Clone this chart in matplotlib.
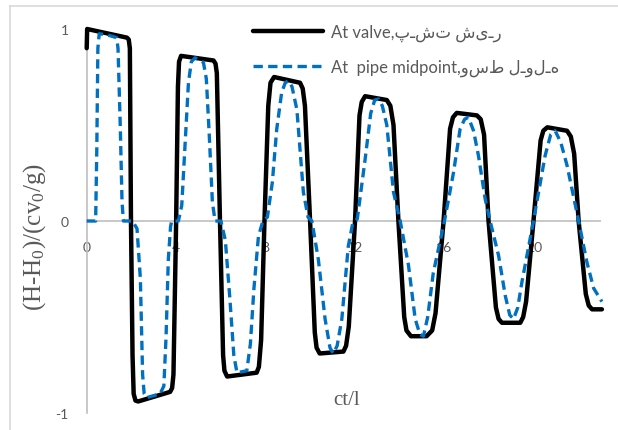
import matplotlib

matplotlib.use("Agg")
import matplotlib.pyplot as plt
from matplotlib.lines import Line2D

# (ct/l, normalised head) read at the valve
valve_points = [
    (0.0, 0.9), (0.02, 1.0), (1.8, 0.955), (1.88, 0.945), (1.93, 0.9),
    (1.98, 0.0), (2.05, -0.7), (2.1, -0.9), (2.18, -0.935), (2.3, -0.94),
    (3.73, -0.89), (3.82, -0.87), (3.88, -0.8), (4.0, 0.0), (4.08, 0.7),
    (4.13, 0.83), (4.22, 0.86), (5.67, 0.836), (5.76, 0.82), (5.82, 0.77),
    (5.96, 0.0), (6.1, -0.7), (6.16, -0.78), (6.28, -0.81), (7.6, -0.79),
    (7.7, -0.76), (7.8, -0.62), (7.95, 0.0), (8.12, 0.6), (8.22, 0.72),
    (8.38, 0.75), (9.54, 0.72), (9.66, 0.69), (9.76, 0.6), (9.99, 0.0),
    (10.2, -0.58), (10.28, -0.66), (10.42, -0.69), (11.48, -0.68), (11.6, -0.65),
    (11.72, -0.55), (12.0, 0.0), (12.2, 0.55), (12.3, 0.62), (12.45, 0.65),
    (13.42, 0.63), (13.58, 0.6), (13.72, 0.5), (13.94, 0.0), (14.2, -0.5),
    (14.3, -0.57), (14.5, -0.6), (15.2, -0.6), (15.45, -0.57), (15.6, -0.48),
    (15.96, 0.0), (16.25, 0.48), (16.38, 0.54), (16.55, 0.563), (17.45, 0.55),
    (17.62, 0.53), (17.77, 0.45), (17.97, 0.0), (18.3, -0.45), (18.42, -0.51),
    (18.57, -0.53), (19.39, -0.53), (19.52, -0.5), (19.65, -0.42), (19.98, 0.0),
    (20.3, 0.42), (20.42, 0.47), (20.6, 0.488), (21.48, 0.47), (21.65, 0.44),
    (21.8, 0.35), (22.0, 0.0), (22.32, -0.38), (22.45, -0.44), (22.6, -0.46),
    (23.04, -0.46),
]

# (ct/l, normalised head) read at the pipe midpoint
mid_points = [
    (0.0, 0.0), (0.4, 0.0), (0.45, 0.36), (0.5, 0.9), (0.56, 0.975),
    (0.9, 0.97), (1.34, 0.955), (1.4, 0.9), (1.5, 0.5), (1.58, 0.1),
    (1.64, 0.0), (2.05, 0.0), (2.25, -0.04), (2.4, -0.3), (2.5, -0.8),
    (2.57, -0.9), (2.68, -0.92), (3.28, -0.9), (3.45, -0.86), (3.55, -0.6),
    (3.65, -0.2), (3.75, -0.03), (3.8, 0.0), (4.1, 0.0), (4.25, 0.08),
    (4.4, 0.4), (4.55, 0.72), (4.68, 0.83), (4.85, 0.85), (5.22, 0.826),
    (5.35, 0.74), (5.48, 0.45), (5.62, 0.1), (5.74, 0.0), (6.0, 0.0),
    (6.2, -0.1), (6.4, -0.4), (6.58, -0.7), (6.72, -0.79), (7.16, -0.78),
    (7.32, -0.64), (7.48, -0.35), (7.68, -0.08), (7.88, 0.0), (8.08, 0.02),
    (8.3, 0.2), (8.5, 0.48), (8.72, 0.67), (8.88, 0.72), (9.02, 0.73),
    (9.18, 0.7), (9.4, 0.58), (9.69, 0.15), (9.9, 0.02), (10.07, 0.0),
    (10.36, -0.2), (10.66, -0.51), (10.88, -0.66), (11.03, -0.69), (11.2, -0.65),
    (11.41, -0.51), (11.7, -0.13), (11.9, -0.01), (12.1, 0.01), (12.45, 0.32),
    (12.7, 0.56), (12.88, 0.63), (13.05, 0.635), (13.22, 0.6), (13.42, 0.5),
    (13.72, 0.15), (14.02, 0.0), (14.39, -0.23), (14.69, -0.51), (14.9, -0.59),
    (15.06, -0.6), (15.25, -0.5), (15.5, -0.27), (16.0, 0.0), (16.4, 0.25),
    (16.7, 0.48), (16.9, 0.53), (17.07, 0.54), (17.3, 0.47), (17.52, 0.34),
    (17.82, 0.115), (18.04, 0.0), (18.42, -0.18), (18.72, -0.39), (18.92, -0.49),
    (19.09, -0.51), (19.28, -0.45), (19.46, -0.32), (19.98, 0.0), (20.5, 0.34),
    (20.75, 0.45), (20.95, 0.47), (21.2, 0.41), (21.48, 0.29), (22.0, 0.0),
    (22.37, -0.215), (22.67, -0.35), (23.04, -0.42),
]

x_ticks = [0, 4, 8, 12, 16, 20]
y_ticks = [-1, 0, 1]
labels = ["At valve,پـشت شیـر", "At  pipe midpoint,وسط لـولـه"]

GRAY_TEXT = "#595959"
GRAY_LINE = "#bfbfbf"
SANS = ["Lato", "DejaVu Sans"]

plt.rcParams["mathtext.fontset"] = "custom"
plt.rcParams["mathtext.rm"] = "Liberation Serif"
plt.rcParams["mathtext.it"] = "Liberation Serif"

fig = plt.figure(figsize=(6.18, 4.31), dpi=100)
ax = fig.add_axes([86.7 / 618, 17 / 431, (601 - 86.7) / 618, 384 / 431])

ax.set_xlim(0, 23)
ax.set_ylim(-1, 1)
for side in ["top", "right", "bottom"]:
    ax.spines[side].set_visible(False)
ax.spines["left"].set_color(GRAY_LINE)
ax.spines["left"].set_linewidth(1.2)
ax.axhline(0, color=GRAY_LINE, lw=1.2, zorder=1)

ax.set_xticks([])
ax.set_yticks(y_ticks)
ax.set_yticklabels([str(v) for v in y_ticks], family=SANS, fontsize=10, color=GRAY_TEXT)
ax.tick_params(axis="y", length=0, pad=13)

for v in x_ticks:
    ax.text(v, -0.135, str(v), ha="center", va="center",
            family=SANS, fontsize=10, color=GRAY_TEXT, zorder=2)

t_valve, h_valve = zip(*valve_points)
t_mid, h_mid = zip(*mid_points)

ax.plot(t_valve, h_valve, color="black", lw=3.2, solid_joinstyle="round",
        solid_capstyle="round", clip_on=False, zorder=3, label=labels[0])
ax.plot(t_mid, h_mid, color="#0070c0", lw=2.4, dashes=(2.8, 1.6),
        dash_joinstyle="round", clip_on=False, zorder=4, label=labels[1])

ax.text(11.6, -0.93, "ct/l", ha="center", va="center",
        family="Liberation Serif", fontsize=15, color=GRAY_TEXT)

fig.text(35 / 618, 1 - 237 / 431, r"(H-H$\mathrm{_0}$)/(cv$\mathrm{_0}$/g)",
         rotation=90, ha="center", va="center",
         family="Liberation Serif", fontsize=18, color=GRAY_TEXT)

leg = ax.legend(loc="upper left", bbox_to_anchor=(253 / 618, 1 - 25 / 431),
                bbox_transform=fig.transFigure, frameon=False,
                handlelength=4.2, handletextpad=0.5, labelspacing=1.05,
                borderpad=0, borderaxespad=0,
                prop={"family": SANS, "size": 12})
for txt in leg.get_texts():
    txt.set_color(GRAY_TEXT)

# chart border (top and left edges only)
fig.add_artist(Line2D([10 / 618, 1], [1 - 6.5 / 431] * 2, color="#d9d9d9", lw=1.2))
fig.add_artist(Line2D([10 / 618] * 2, [0, 1 - 6.5 / 431], color="#d9d9d9", lw=1.2))

fig.savefig("out.png", dpi=100)
